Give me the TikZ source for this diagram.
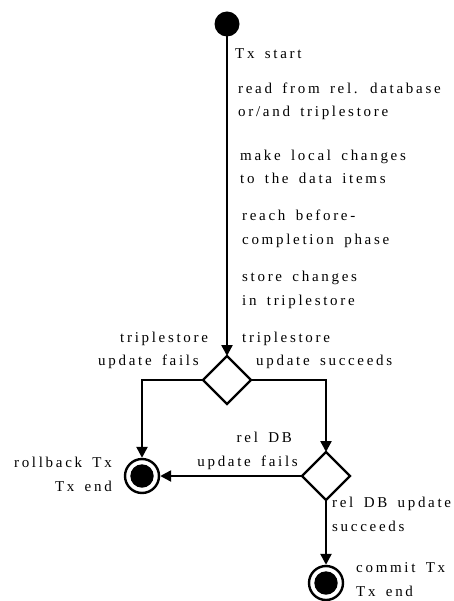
\documentclass[tikz,border=0pt]{standalone}
\usepackage{fontspec}
\setmainfont[LetterSpace=18,WordSpace=1.6]{Liberation Serif}
\usetikzlibrary{arrows.meta,shapes.geometric}
\begin{document}
\begin{tikzpicture}[x=1pt,y=-1pt,
  lbl/.style={inner sep=0pt,align=left,font=\fontsize{15}{23.5}\selectfont},
  lblr/.style={inner sep=0pt,align=right,font=\fontsize{15}{23.5}\selectfont},
  flow/.style={line width=2.4pt,-{Triangle[length=11pt,width=11pt]}},
  startdot/.style={circle,fill=black,minimum size=25pt,inner sep=0pt,outer sep=0pt},
  choice/.style={diamond,draw,line width=2.2pt,minimum width=48pt,minimum height=48pt,inner sep=0pt,outer sep=0pt},
  final/.style={circle,draw,line width=2.4pt,minimum size=34pt,inner sep=0pt,outer sep=1.2pt,
    path picture={\fill (path picture bounding box.center) circle (11.7pt);}}]
\useasboundingbox (0,0) rectangle (454,601);

% states
\node[startdot] (start) at (227,24) {};
\node[choice] (d1) at (227,380) {};
\node[choice] (d2) at (326,476) {};
\node[final] (e1) at (142,476) {};
\node[final] (e2) at (326,583) {};

% transitions
\draw[flow] (start) -- (d1);
\draw[flow] (d1.west) -| (e1);
\draw[flow] (d1.east) -| (d2);
\draw[flow] (d2.west) -- (e1);
\draw[flow] (d2) -- (e2);

% labels along the main flow (base = baseline of the last line)
\node[lbl,anchor=base west] (t0) at (235,59) {Tx start};
\node[lbl,anchor=base west] (t1) at (238,117) {read from rel. database\\or/and triplestore};
\node[lbl,anchor=base west] (t2) at (240,184) {make local changes\\to the data items};
\node[lbl,anchor=base west] (t3) at (242,244) {reach before-\\completion phase};
\node[lbl,anchor=base west] (t4) at (242,305) {store changes\\in triplestore};

% guard labels at the first decision
\node[lbl,anchor=base west] (g1a) at (242,342) {triplestore};
\node[lbl,anchor=base west] (g1b) at (256,365) {update succeeds};
\node[lbl,anchor=base west] (g2a) at (120,342) {triplestore};
\node[lbl,anchor=base west] (g2b) at (98,365) {update fails};

% guard labels at the second decision
\node[lblr,anchor=base east] (g3) at (298,466) {rel DB\hspace*{6pt}\\update fails};
\node[lbl,anchor=base west] (g4) at (332,531) {rel DB update\\succeeds};

% end states
\node[lblr,anchor=base east] (r1) at (112,491) {rollback Tx\\Tx end};
\node[lbl,anchor=base west] (c1) at (356,596) {commit Tx\\Tx end};
\end{tikzpicture}
\end{document}
